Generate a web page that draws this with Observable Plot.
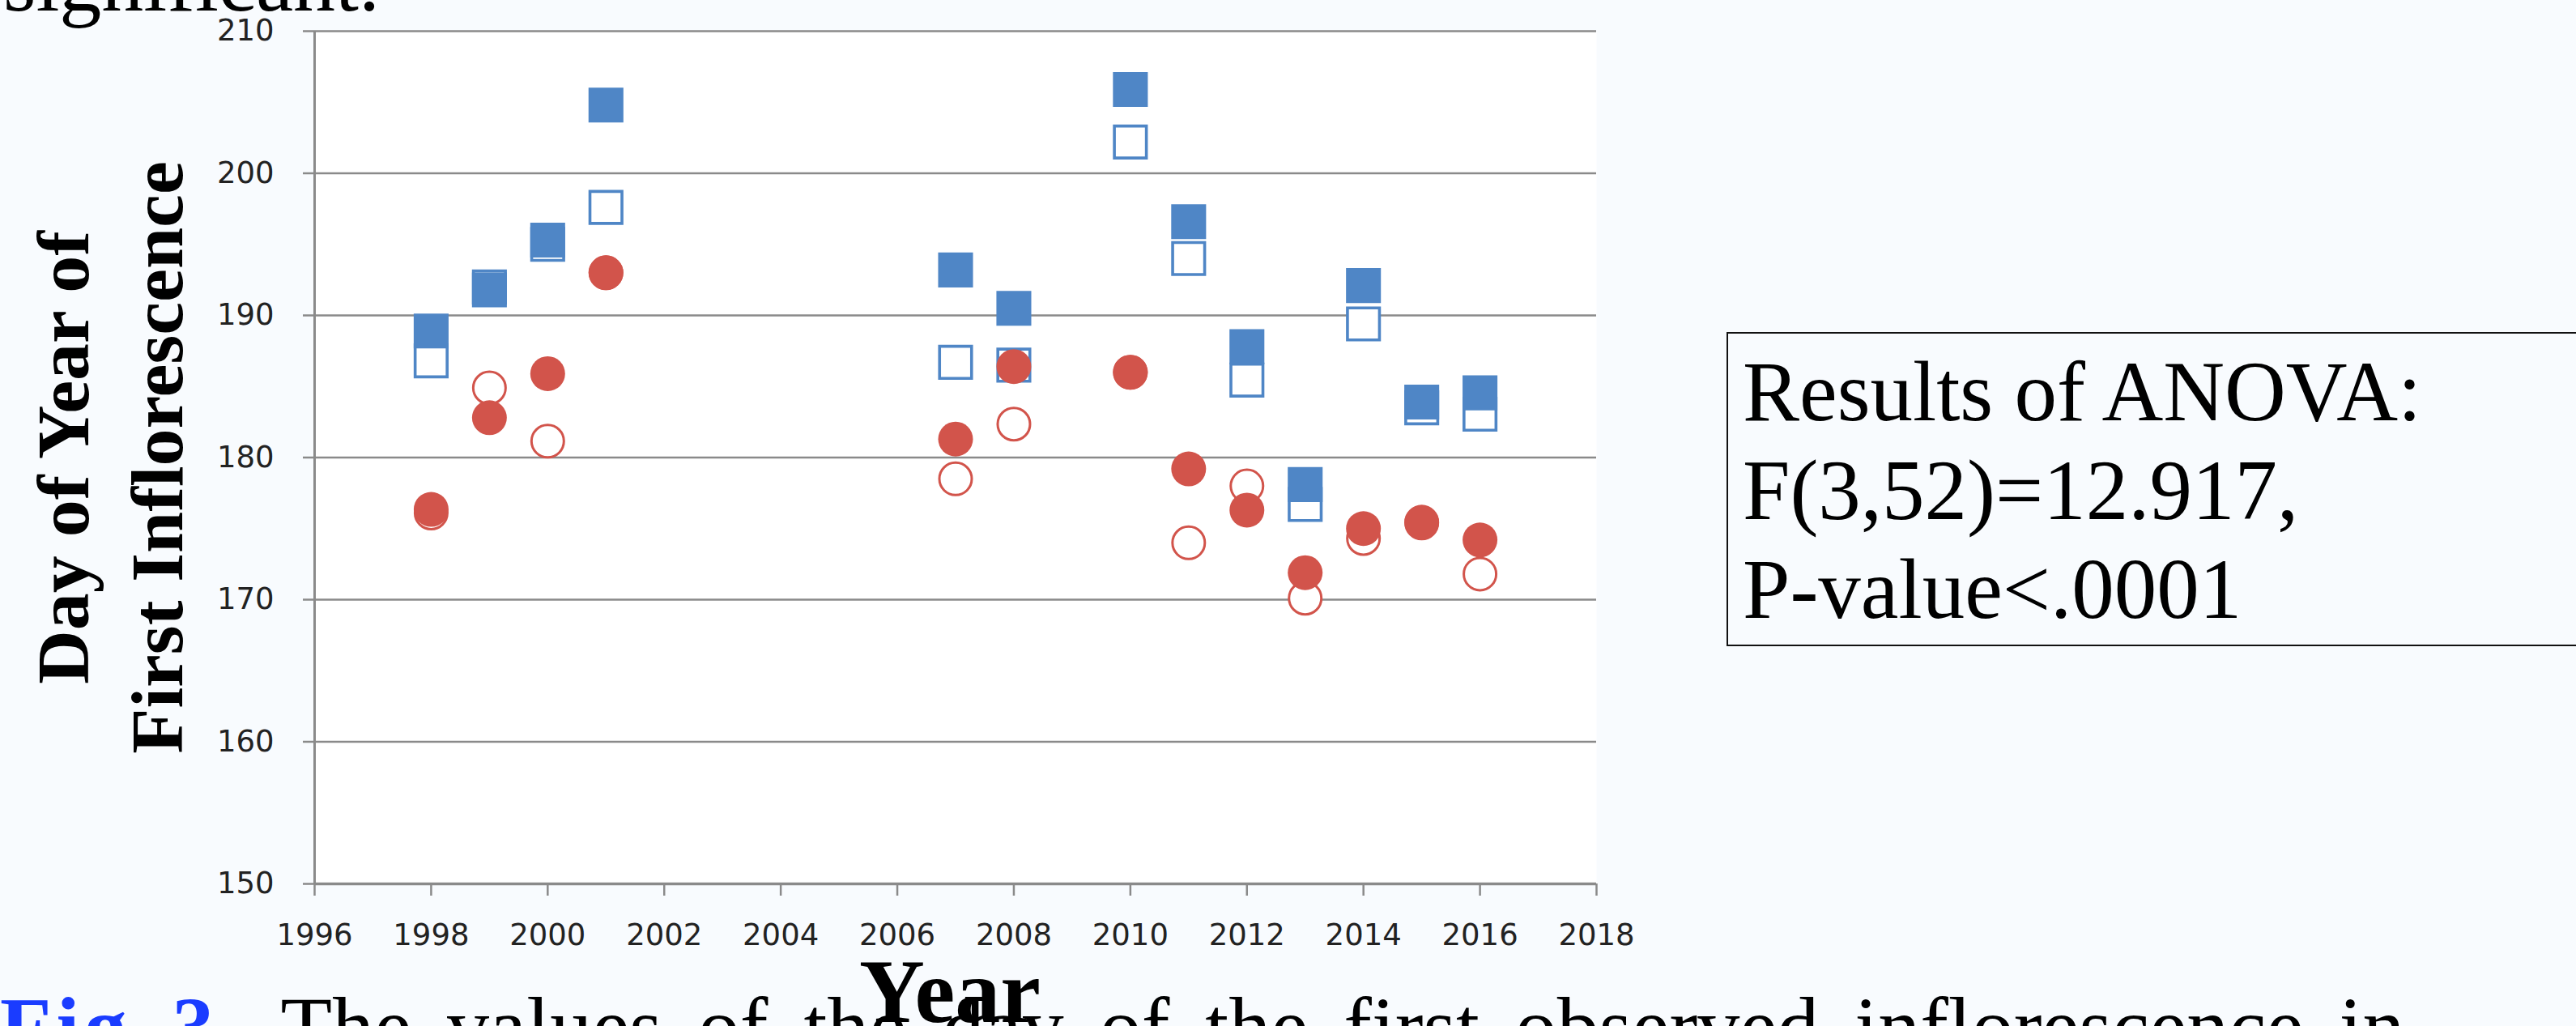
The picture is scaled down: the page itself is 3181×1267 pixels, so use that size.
<!DOCTYPE html>
<html>
<head>
<meta charset="utf-8">
<script src="https://cdn.jsdelivr.net/npm/d3@7"></script>
<script src="https://cdn.jsdelivr.net/npm/@observablehq/plot@0.6"></script>
<style>
  html, body { margin: 0; padding: 0; }
  body { width: 3181px; height: 1267px; overflow: hidden; background: #f8fbfe; position: relative; }
  #chart { position: absolute; left: 0; top: 0; }
  .para { position: absolute; font-family: "Liberation Serif", serif; font-size: 104px; line-height: 104px; color: #000; white-space: nowrap; }
  #anovaBox { position: absolute; left: 2132px; top: 410px; width: 1100px; height: 384px; border: 2px solid #111; }
  #anovaText { position: absolute; left: 2152px; top: 423px; font-family: "Liberation Serif", serif; font-size: 105px; line-height: 122px; color: #000; white-space: nowrap; }
</style>
</head>
<body>
<div class="para" id="topText" style="left:4px; top:-74px;">significant.</div>
<div id="chart"></div>
<div id="anovaBox"></div>
<div id="anovaText"></div>
<div class="para" id="caption" style="left:0px; top:1216px; word-spacing:18px;"></div>
<script>
// ---- data ----
const years = [1998, 1999, 2000, 2001, 2007, 2008, 2010, 2011, 2012, 2013, 2014, 2015, 2016];
const filledSquares = [188.9, 191.8, 195.3, 204.8, 193.2, 190.5, 205.9, 196.6, 187.8, 178.1, 192.1, 183.9, 184.55];
const openSquares   = [186.8, 192.0, 195.0, 197.6, 186.7, 186.5, 202.2, 194.0, 185.45, 176.7, 189.4, 183.5, 183.05];
const filledCircles = [176.35, 182.8, 185.9, 193.0, 181.3, 186.4, 186.0, 179.2, 176.3, 171.9, 175.0, 175.45, 174.2];
const openCircles   = [176.1, 184.9, 181.15, 193.0, 178.5, 182.35, 186.0, 174.0, 178.0, 170.1, 174.3, 175.4, 171.8];

const xTicks = [1996, 1998, 2000, 2002, 2004, 2006, 2008, 2010, 2012, 2014, 2016, 2018];
const yTicks = [150, 160, 170, 180, 190, 200, 210];

const yLabelLines = ["Day of Year of", "First Inflorescence"];
const xLabel = "Year";
const anovaLines = ["Results of ANOVA:", "F(3,52)=12.917,", "P-value<.0001"];
const topText = "significant.";
const captionLead = "Fig 3.";
const captionRest = "The values of the day of the first observed inflorescence in";

// ---- build ----
const toRows = (vals) => years.map((year, i) => ({year, value: vals[i]}));
const blue = "#4f86c6";
const red = "#d2544b";
const gridColor = "#8a8a8a";
const tickFont = "DejaVu Sans";
const serif = "Liberation Serif";

const chart = Plot.plot({
  width: 2050,
  height: 1267,
  marginLeft: 388,
  marginRight: 79,
  marginTop: 38,
  marginBottom: 176,
  x: {domain: [1996, 2018]},
  y: {domain: [150, 210]},
  style: {background: "transparent", overflow: "visible"},
  marks: [
    Plot.frame({fill: "white", stroke: "none"}),
    Plot.gridY(yTicks, {stroke: gridColor, strokeOpacity: 1, strokeWidth: 2.5}),
    Plot.ruleX([1996], {stroke: gridColor, strokeWidth: 3}),
    Plot.ruleY([150], {stroke: gridColor, strokeWidth: 3.5}),
    Plot.axisY(yTicks, {tickSize: 14, tickPadding: 36, fontSize: 37, fontFamily: tickFont,
      stroke: gridColor, strokeWidth: 2.5, color: "#222", label: null, tickFormat: d => String(d)}),
    Plot.axisX(xTicks, {tickSize: 15, tickPadding: 34, fontSize: 37, fontFamily: tickFont,
      stroke: gridColor, strokeWidth: 2.5, color: "#222", label: null, tickFormat: d => String(d)}),
    Plot.dot(toRows(openSquares), {x: "year", y: "value", symbol: "square", r: 22.3,
      fill: "white", stroke: blue, strokeWidth: 3.6, ariaLabel: "marker open-square"}),
    Plot.dot(toRows(filledSquares), {x: "year", y: "value", symbol: "square", r: 24.3,
      fill: blue, stroke: "none", ariaLabel: "marker filled-square"}),
    Plot.dot(toRows(openCircles), {x: "year", y: "value", symbol: "circle", r: 20,
      fill: "white", stroke: red, strokeWidth: 3, ariaLabel: "marker open-circle"}),
    Plot.dot(toRows(filledCircles), {x: "year", y: "value", symbol: "circle", r: 21.5,
      fill: red, stroke: "none", ariaLabel: "marker filled-circle"}),
    Plot.text([yLabelLines[0]], {text: d => d, frameAnchor: "left", rotate: -90, dx: -280,
      lineAnchor: "bottom", textAnchor: "middle", fontSize: 92, fontWeight: "bold",
      fontFamily: serif, fill: "black", ariaLabel: "ylabel-1"}),
    Plot.text([yLabelLines[1]], {text: d => d, frameAnchor: "left", rotate: -90, dx: -164,
      lineAnchor: "bottom", textAnchor: "middle", fontSize: 92, fontWeight: "bold",
      fontFamily: serif, fill: "black", ariaLabel: "ylabel-2"}),
    Plot.text([xLabel], {text: d => d, frameAnchor: "bottom", dx: -7, dy: 170,
      lineAnchor: "bottom", textAnchor: "middle", fontSize: 112, fontWeight: "bold",
      fontFamily: serif, fill: "black", ariaLabel: "xlabel"})
  ]
});
document.getElementById("chart").appendChild(chart);

// compress the bold serif labels to the reference's lengths
const fit = (label, len) => d3.select(chart).selectAll(`g[aria-label="${label}"] text`)
  .attr("textLength", len).attr("lengthAdjust", "spacingAndGlyphs");
fit("ylabel-1", 578);
fit("ylabel-2", 692);
fit("xlabel", 243);

// soft drop shadow under the markers, as in the reference
const svg = d3.select(chart);
const defs = svg.insert("defs", ":first-child");
defs.append("filter").attr("id", "mshadow").attr("x", "-50%").attr("y", "-50%").attr("width", "200%").attr("height", "200%")
  .append("feDropShadow").attr("dx", 2).attr("dy", 4).attr("stdDeviation", 3)
  .attr("flood-color", "#000").attr("flood-opacity", 0.22);
svg.selectAll('g[aria-label^="marker"] path').attr("filter", "url(#mshadow)");

document.getElementById("anovaText").innerHTML = anovaLines.join("<br>");
document.getElementById("topText").textContent = topText;
document.getElementById("caption").innerHTML =
  `<b style="color:#1a3cff; letter-spacing:6px">${captionLead}</b>&nbsp;${captionRest}`;
</script>
</body>
</html>
